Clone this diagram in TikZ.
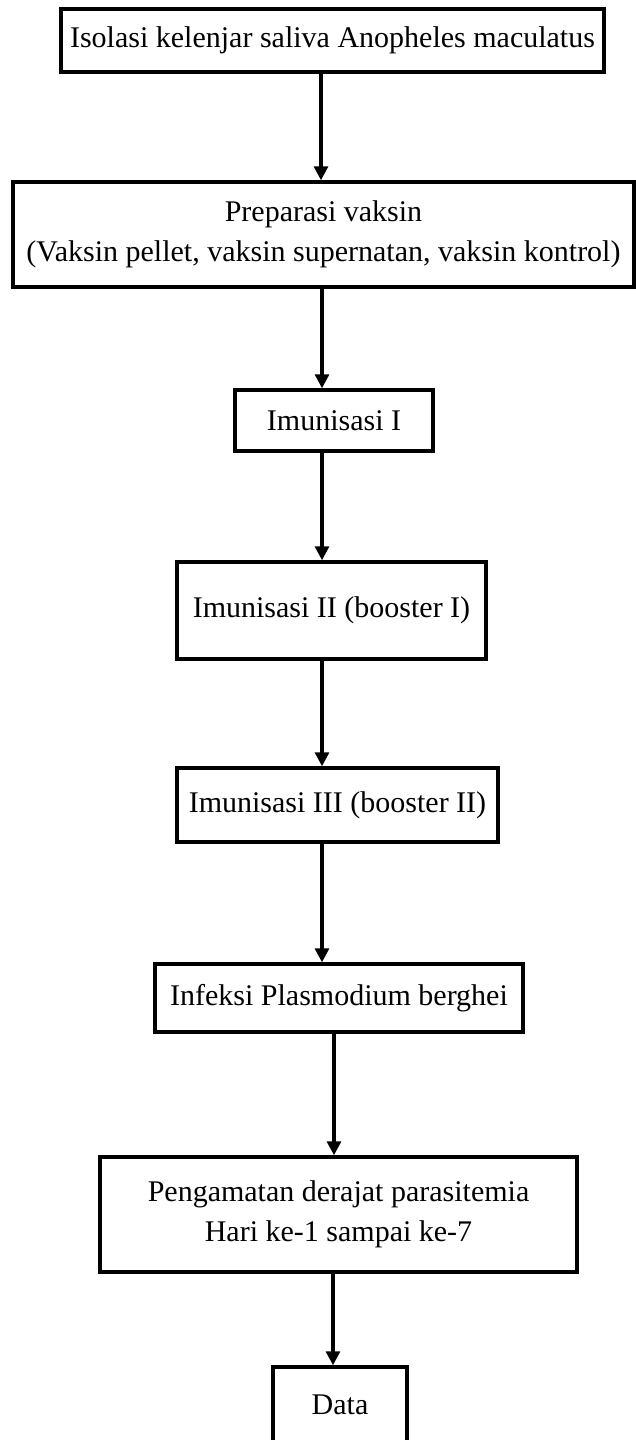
\documentclass[tikz,border=0pt]{standalone}
\usepackage{fontspec}
\setmainfont{Liberation Serif}
\usetikzlibrary{arrows.meta}
\begin{document}
\begin{tikzpicture}[x=1pt,y=-1pt,
  box/.style={draw=black,line width=3.5pt,fill=white,inner sep=0pt,align=center,
    font=\fontsize{30}{40}\selectfont},
  arr/.style={line width=3.2pt,-{Triangle[length=14pt,width=14pt]}}]
\useasboundingbox (0,0) rectangle (636,1440);
\clip (0,0) rectangle (636,1440);
\fill[white] (0,0) rectangle (636,1440);
\node[box,minimum width=543pt,minimum height=63pt] (b1) at (332.5,40.5) {Isolasi kelenjar saliva Anopheles maculatus};
\node[box,minimum width=621pt,minimum height=105pt] (b2) at (323.5,234.5) {Preparasi vaksin\\(Vaksin pellet, vaksin supernatan, vaksin kontrol)};
\node[box,minimum width=198pt,minimum height=61pt] (b3) at (334,420.5) {Imunisasi I};
\node[box,minimum width=309pt,minimum height=97pt] (b4) at (331.5,610.5) {Imunisasi II (booster I)};
\node[box,minimum width=321pt,minimum height=74pt] (b5) at (337.5,805) {Imunisasi III (booster II)};
\node[box,minimum width=368pt,minimum height=68pt] (b6) at (339,998) {Infeksi Plasmodium berghei};
\node[box,minimum width=477pt,minimum height=115pt] (b7) at (338.5,1214.5) {Pengamatan derajat parasitemia\\Hari ke-1 sampai ke-7};
\node[box,minimum width=134pt,minimum height=75pt] (b8) at (340,1404.5) {Data};
\coordinate (a1) at (321,0);
\coordinate (a2) at (322,0);
\coordinate (a6) at (334,0);
\coordinate (a7) at (333,0);
\draw[arr] (b1.south -| a1) -- (b2.north -| a1);
\draw[arr] (b2.south -| a2) -- (b3.north -| a2);
\draw[arr] (b3.south -| a2) -- (b4.north -| a2);
\draw[arr] (b4.south -| a2) -- (b5.north -| a2);
\draw[arr] (b5.south -| a2) -- (b6.north -| a2);
\draw[arr] (b6.south -| a6) -- (b7.north -| a6);
\draw[arr] (b7.south -| a7) -- (b8.north -| a7);
\end{tikzpicture}
\end{document}
